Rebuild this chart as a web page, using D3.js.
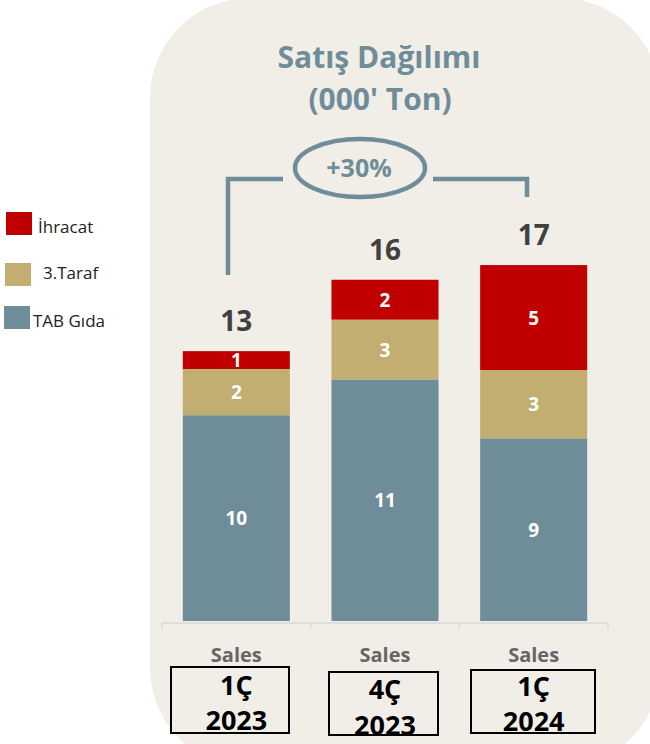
<!DOCTYPE html>
<html><head><meta charset="utf-8">
<script src="https://cdn.jsdelivr.net/npm/d3@7"></script>
<style>html,body{margin:0;padding:0;background:#fff;}svg{display:block;}</style>
</head><body>
<script>
const periods = ["1Ç|2023", "4Ç|2023", "1Ç|2024"];
const axisLabel = "Sales";
const seriesNames = ["TAB Gıda", "3.Taraf", "İhracat"];
const tabValues = [9.8, 11.5, 8.7];
const tarafValues = [2.2, 2.85, 3.25];
const ihracatValues = [0.85, 1.9, 5.0];
const tabLabels = ["10", "11", "9"];
const tarafLabels = ["2", "3", "3"];
const ihracatLabels = ["1", "2", "5"];
const totalLabels = ["13", "16", "17"];
const colors = ["#6f8d99", "#c2ae70", "#c00000"];
const growthLabel = "+30%";

const W = 650, H = 744;
const font = "'Open Sans', Lato, sans-serif";
const svg = d3.select("body").append("svg").attr("width", W).attr("height", H);

// background panel
svg.append("rect").attr("x", 150).attr("y", -2).attr("width", 510).attr("height", 770)
  .attr("rx", 100).attr("fill", "#f1eee8");

const x = d3.scaleBand().domain(periods).range([162, 608]).paddingInner(0.28).paddingOuter(0.14);
const y = d3.scaleLinear().domain([0, 20]).range([621, 201]);

const rows = periods.map((p, i) => ({p, labs: [tabLabels[i], tarafLabels[i], ihracatLabels[i]]}));
const stackData = periods.map((p, i) => ({p, s0: tabValues[i], s1: tarafValues[i], s2: ihracatValues[i]}));
const stack = d3.stack().keys(["s0", "s1", "s2"])(stackData);

const g = svg.append("g");
stack.forEach((layer, k) => {
  g.selectAll(null).data(layer).enter().append("rect")
    .attr("x", d => x(d.data.p)).attr("width", x.bandwidth())
    .attr("y", d => y(d[1])).attr("height", d => y(d[0]) - y(d[1]))
    .attr("fill", colors[k]);
  g.selectAll(null).data(layer).enter().append("text")
    .attr("x", d => x(d.data.p) + x.bandwidth() / 2)
    .attr("y", d => (y(d[0]) + y(d[1])) / 2 + 7)
    .attr("text-anchor", "middle").attr("fill", "#fff")
    .attr("font-family", font).attr("font-weight", "bold").attr("font-size", 19)
    .text((d, i) => rows[i].labs[k]);
});
// totals
g.selectAll(null).data(stack[2]).enter().append("text")
  .attr("x", d => x(d.data.p) + x.bandwidth() / 2)
  .attr("y", d => y(d[1]) - 20)
  .attr("text-anchor", "middle").attr("fill", "#404040")
  .attr("font-family", font).attr("font-weight", "bold").attr("font-size", 28)
  .text((d, i) => totalLabels[i]);

// axis
const axisG = svg.append("g").attr("transform", "translate(0,623)");
axisG.append("line").attr("x1", 162).attr("x2", 608).attr("stroke", "#d9d9d9").attr("stroke-width", 1.5);
const edges = [0, 1, 2, 3].map(i => 162 + i * (608 - 162) / 3);
axisG.selectAll(null).data(edges).enter().append("line")
  .attr("x1", d => d).attr("x2", d => d).attr("y1", 0).attr("y2", 6)
  .attr("stroke", "#d9d9d9").attr("stroke-width", 1.5);
axisG.selectAll(null).data(periods).enter().append("text")
  .attr("x", d => x(d) + x.bandwidth() / 2).attr("y", 39)
  .attr("text-anchor", "middle").attr("fill", "#666")
  .attr("font-family", font).attr("font-weight", "bold").attr("font-size", 20)
  .text(axisLabel);

// period boxes
const boxes = [{x0: 171, x1: 289, y0: 667, y1: 733, t1: 695, t2: 730},
               {x0: 329, x1: 438, y0: 672, y1: 735, t1: 699, t2: 735},
               {x0: 471, x1: 595, y0: 670, y1: 733, t1: 696, t2: 731}];
periods.forEach((p, i) => {
  const b = boxes[i];
  svg.append("rect").attr("x", b.x0).attr("y", b.y0).attr("width", b.x1 - b.x0).attr("height", b.y1 - b.y0)
    .attr("fill", "none").attr("stroke", "#000").attr("stroke-width", 2);
  const parts = p.split("|");
  const cx = x(p) + x.bandwidth() / 2;
  svg.append("text").attr("x", cx).attr("y", b.t1).attr("text-anchor", "middle")
    .attr("font-family", font).attr("font-weight", "bold").attr("font-size", 27).attr("fill", "#000").text(parts[0]);
  svg.append("text").attr("x", cx).attr("y", b.t2).attr("text-anchor", "middle")
    .attr("font-family", font).attr("font-weight", "bold").attr("font-size", 27).attr("fill", "#000").text(parts[1]);
});

// title
const titleColor = "#6f8d99";
svg.append("text").attr("x", 379).attr("y", 68).attr("text-anchor", "middle")
  .attr("font-family", font).attr("font-weight", "bold").attr("font-size", 30).attr("fill", titleColor)
  .text("Satış Dağılımı");
svg.append("text").attr("x", 380).attr("y", 110).attr("text-anchor", "middle")
  .attr("font-family", font).attr("font-weight", "bold").attr("font-size", 30).attr("fill", titleColor)
  .text("(000' Ton)");

// bracket
const br = svg.append("g").attr("stroke", titleColor).attr("stroke-width", 4.5).attr("fill", "none");
br.append("path").attr("d", "M228,275 V179 H283");
br.append("path").attr("d", "M433,179 H527 V197");
br.append("ellipse").attr("cx", 360).attr("cy", 168).attr("rx", 65).attr("ry", 29);
svg.append("text").attr("x", 359).attr("y", 177).attr("text-anchor", "middle")
  .attr("font-family", font).attr("font-weight", "bold").attr("font-size", 25).attr("fill", titleColor)
  .text(growthLabel);

// legend
const legend = [
  {name: seriesNames[2], c: colors[2], sx: 6, sy: 212, tx: 38, ty: 233},
  {name: seriesNames[1], c: colors[1], sx: 5, sy: 263, tx: 43, ty: 279},
  {name: seriesNames[0], c: colors[0], sx: 4, sy: 306, tx: 33, ty: 327}
];
legend.forEach(l => {
  svg.append("rect").attr("x", l.sx).attr("y", l.sy).attr("width", 26).attr("height", 23).attr("fill", l.c);
  svg.append("text").attr("x", l.tx).attr("y", l.ty).attr("font-family", font).attr("font-size", 17)
    .attr("fill", "#222").text(l.name);
});
</script>
</body></html>
